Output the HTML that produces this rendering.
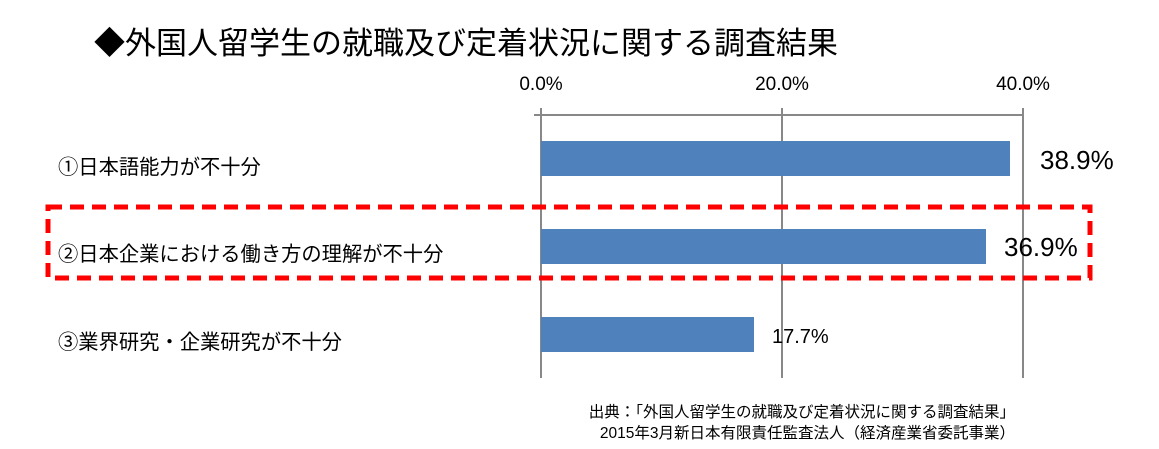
<!DOCTYPE html>
<html><head><meta charset="utf-8"><style>
body{margin:0;width:1159px;height:449px;background:#fff;position:relative;overflow:hidden;font-family:"Liberation Sans","Noto Sans CJK JP",sans-serif;color:#000}
.a{position:absolute;white-space:nowrap}
</style></head><body>
<div class="a" style="left:94px;top:22px;font-size:31px;line-height:44px">◆外国人留学生の就職及び定着状況に関する調査結果</div>
<svg class="a" style="left:0;top:0" width="1159" height="449">
<g stroke="#888" stroke-width="2">
<line x1="534" y1="115" x2="1023" y2="115"/>
<line x1="541" y1="108" x2="541" y2="378"/>
<line x1="782" y1="108" x2="782" y2="378"/>
<line x1="1023" y1="108" x2="1023" y2="378"/>
</g>
<rect x="541" y="141" width="469" height="35" fill="#4f81bd"/>
<rect x="541" y="229" width="445" height="35" fill="#4f81bd"/>
<rect x="541" y="317" width="213" height="35" fill="#4f81bd"/>
<rect x="48" y="207" width="1042" height="71" fill="none" stroke="#f00" stroke-width="5" stroke-dasharray="14,8"/>
<g font-family="Liberation Sans, sans-serif" font-size="19" text-anchor="middle">
<text x="541" y="90">0.0%</text><text x="782" y="90">20.0%</text><text x="1023" y="90">40.0%</text>
</g>
<text x="1040" y="169" font-size="26" font-family="Liberation Sans, sans-serif">38.9%</text>
<text x="1004" y="256" font-size="26" font-family="Liberation Sans, sans-serif">36.9%</text>
<text x="772" y="343" font-size="20" font-family="Liberation Sans, sans-serif">17.7%</text>
</svg>
<div class="a" style="left:58px;top:150px;font-size:20.3px">①日本語能力が不十分</div>
<div class="a" style="left:58px;top:237px;font-size:20.3px">②日本企業における働き方の理解が不十分</div>
<div class="a" style="left:58px;top:325px;font-size:20.3px">③業界研究・企業研究が不十分</div>
<div class="a" style="right:144px;top:402px;font-size:15.5px;line-height:21px;text-align:right">出典：「外国人留学生の就職及び定着状況に関する調査結果」<br>2015年3月新日本有限責任監査法人（経済産業省委託事業）</div>
</body></html>
